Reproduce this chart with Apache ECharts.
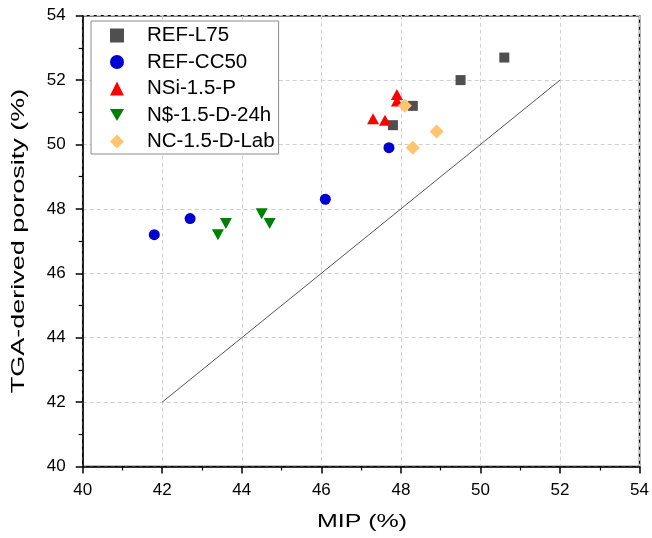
<!DOCTYPE html>
<html>
<head>
<meta charset="utf-8">
<script src="https://cdn.jsdelivr.net/npm/echarts@6/dist/echarts.min.js"></script>
<style>
  html, body { margin: 0; padding: 0; background: #fff; }
  #chart { width: 652px; height: 538px; }
</style>
</head>
<body>
<div id="chart"></div>
<script>
// data: [MIP %, TGA porosity %]
var refL75   = [[47.8, 50.6], [48.3, 51.2], [49.5, 52.0], [50.6, 52.7]];
var refCC50  = [[41.8, 47.2], [42.7, 47.7], [46.1, 48.3], [47.7, 49.9]];
var nsiP     = [[47.3, 50.8], [47.6, 50.75], [47.9, 51.35], [47.9, 51.55]];
var ndD24h   = [[43.4, 47.2], [43.6, 47.55], [44.5, 47.85], [44.7, 47.55]];
var ncDLab   = [[48.1, 51.2], [48.3, 49.9], [48.9, 50.4]];
var parity   = [[42, 42], [52, 52]];

var seriesNames = ['REF-L75', 'REF-CC50', 'NSi-1.5-P', 'N$-1.5-D-24h', 'NC-1.5-D-Lab'];
var axisMin = 40, axisMax = 54, axisStep = 2;

var FONT = "'Liberation Sans', Arial, sans-serif";
var downTriangle = 'path://M0,0 L10,0 L5,8.66 Z';

var chart = echarts.init(document.getElementById('chart'));

// 坐标轴公共样式
function makeAxis(labelMargin) {
    return {
        type: 'value',
        min: axisMin,
        max: axisMax,
        interval: axisStep,
        axisLine: { show: true, onZero: false, lineStyle: { color: '#000', width: 1.5 } },
        axisTick: { show: true, inside: false, length: 7, lineStyle: { color: '#000', width: 1.5 } },
        minorTick: { show: true, splitNumber: 2, length: 4, lineStyle: { color: '#000', width: 1.2 } },
        axisLabel: { color: '#000', fontSize: 17, fontFamily: FONT, margin: labelMargin },
        splitLine: { show: true, lineStyle: { color: '#cfcfcf', width: 1, type: [4, 3] } }
    };
}

function scatter(name, data, symbol, size, color) {
    return {
        name: name,
        type: 'scatter',
        data: data,
        symbol: symbol,
        symbolSize: size,
        itemStyle: { color: color, opacity: 1 },
        z: 3
    };
}

var option = {
    backgroundColor: '#fff',
    animation: false,
    grid: {
        left: 82.7, right: 11, top: 15.7, bottom: 71.5,
        show: true, borderColor: '#000', borderWidth: 1.5,
        backgroundColor: 'transparent'
    },
    xAxis: makeAxis(15),
    yAxis: makeAxis(17),
    legend: {
        data: seriesNames,
        orient: 'vertical',
        left: 91,
        top: 21,
        padding: [4, 4, 2, 19],
        itemGap: 5.5,
        itemWidth: 14,
        itemHeight: 14,
        borderColor: '#8a8a8a',
        borderWidth: 1,
        backgroundColor: '#fff',
        textStyle: { color: '#000', fontSize: 20.5, fontFamily: FONT, padding: [0, 0, 0, 18] }
    },
    graphic: [
        {
            type: 'text', x: 362, y: 522, scaleX: 1.35,
            style: { text: 'MIP (%)', font: "18.5px 'Liberation Sans', Arial, sans-serif", fill: '#000',
                     textAlign: 'center', textVerticalAlign: 'middle' }
        },
        {
            type: 'text', x: 18.5, y: 241, rotation: Math.PI / 2, scaleX: 1.46,
            style: { text: 'TGA-derived porosity (%)', font: "18.5px 'Liberation Sans', Arial, sans-serif", fill: '#000',
                     textAlign: 'center', textVerticalAlign: 'middle' }
        }
    ],
    series: [
        {
            name: 'parity',
            type: 'line',
            data: parity,
            showSymbol: false,
            symbol: 'none',
            lineStyle: { color: '#555', width: 1 },
            z: 2
        },
        scatter(seriesNames[0], refL75, 'rect', 10, '#4f4f4f'),
        scatter(seriesNames[1], refCC50, 'circle', 11, '#0000d0'),
        scatter(seriesNames[2], nsiP, 'triangle', [12, 11], '#ff0000'),
        scatter(seriesNames[3], ndD24h, downTriangle, [12, 11], '#008000'),
        scatter(seriesNames[4], ncDLab, 'diamond', 14, '#ffc470')
    ]
};

chart.setOption(option);
</script>
</body>
</html>
